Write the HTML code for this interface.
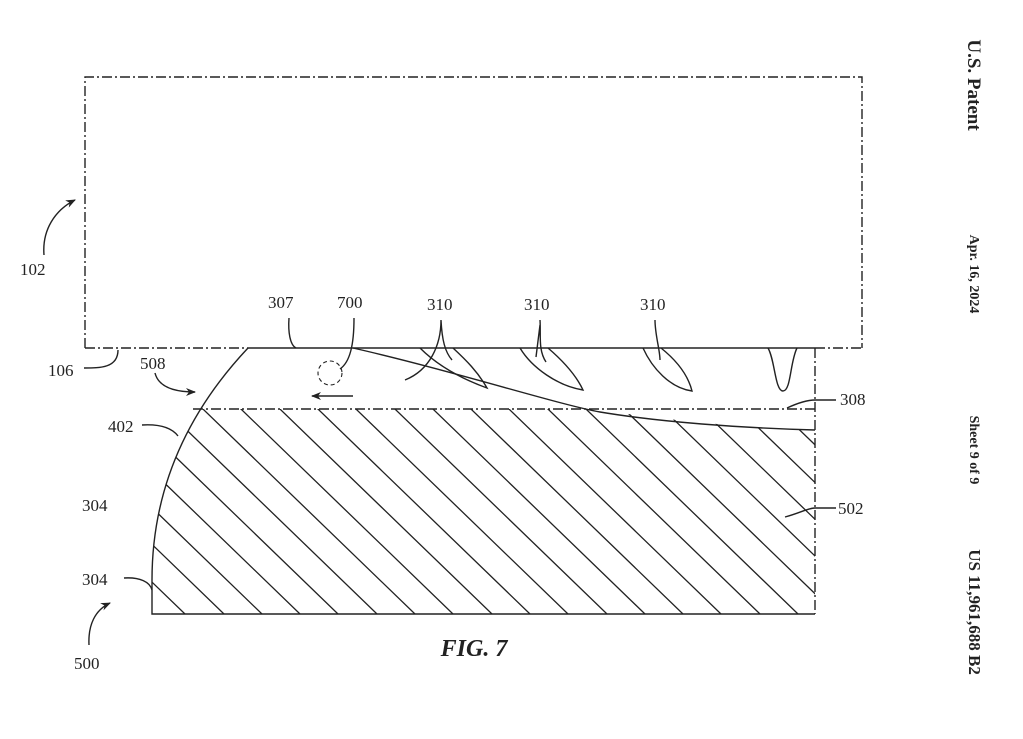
<!DOCTYPE html>
<html><head><meta charset="utf-8"><style>
html,body{margin:0;padding:0;background:#fff;}
svg{display:block;}
text{font-family:"Liberation Serif",serif;fill:#222;}
</style></head><body>
<svg width="1023" height="739" viewBox="0 0 1023 739" xmlns="http://www.w3.org/2000/svg">
<defs>
<clipPath id="c1"><path d="M248,348 Q152,450 152,580 L152,614 L815,614 L815,348 Z"/></clipPath>
<clipPath id="c2"><path d="M0,409 L595,409 C650,418 740,428 815,430 L815,620 L0,620 Z"/></clipPath>
<marker id="ah" markerWidth="10" markerHeight="8" refX="9" refY="4" orient="auto" markerUnits="userSpaceOnUse"><path d="M0,0 L10,4 L0,8 L3,4 Z" fill="#222"/></marker>
</defs>
<g fill="none" stroke="#222" stroke-width="1.4">
<path d="M85,348 L85,77 L862,77 L862,348" stroke-dasharray="10,3,2,3" />
<path d="M85,348 L248,348" stroke-dasharray="10,3,2,3"/>
<path d="M248,348 L815,348"/>
<path d="M815,348 L862,348" stroke-dasharray="10,3,2,3"/>
<path d="M815,348 L815,614" stroke-dasharray="10,3,2,3"/>
<path d="M193,409 L815,409" stroke-dasharray="10,3,2,3"/>
<path d="M248,348 Q152,450 152,580 L152,614 L815,614"/>
<g clip-path="url(#c1)"><g clip-path="url(#c2)" stroke-width="1.3">
<path d="M1066,614 l-300,-290 M1028,614 l-300,-290 M990,614 l-300,-290 M951,614 l-300,-290 M913,614 l-300,-290 M875,614 l-300,-290 M836,614 l-300,-290 M798,614 l-300,-290 M760,614 l-300,-290 M721,614 l-300,-290 M683,614 l-300,-290 M645,614 l-300,-290 M607,614 l-300,-290 M568,614 l-300,-290 M530,614 l-300,-290 M492,614 l-300,-290 M453,614 l-300,-290 M415,614 l-300,-290 M377,614 l-300,-290 M338,614 l-300,-290 M300,614 l-300,-290 M262,614 l-300,-290 M224,614 l-300,-290 M185,614 l-300,-290"/>
</g></g>
<path d="M353,348 C450,370 560,405 600,412 C660,422 740,428 815,430"/>
<path d="M420,348 C440,368 465,380 487,388 C478,372 466,360 453,348"/>
<path d="M520,348 C532,368 558,386 583,390 C576,375 562,360 548,348"/>
<path d="M643,348 C652,368 670,388 692,391 C688,375 676,360 661,348"/>
<path d="M768,348 C775,360 775,391 783,391 C791,391 790,362 797,348"/>
<path d="M441,320 C441,345 430,370 405,380 M441,320 C442,340 445,352 452,360"/>
<path d="M540,320 C541,335 538,350 546,362 M540,325 L536,357"/>
<path d="M655,320 C655,335 660,350 660,360"/>
<path d="M289,318 C288,332 290,345 296,348"/>
<path d="M354,318 C354,345 350,362 340,369"/>
<circle cx="330" cy="373" r="12" stroke-dasharray="4,3" stroke-width="1.1"/>
<path d="M353,396 L312,396" marker-end="url(#ah)"/>
<path d="M84,368 C100,368 118,368 118,350"/>
<path d="M155,373 C158,385 170,392 195,392" marker-end="url(#ah)"/>
<path d="M142,425 C160,424 172,428 178,436"/>
<path d="M124,578 C140,577 150,582 152,590"/>
<path d="M89,645 C88,625 95,610 110,603" marker-end="url(#ah)"/>
<path d="M44,255 C42,230 55,210 75,200" marker-end="url(#ah)"/>
<path d="M787,408 C800,402 808,400 815,400 L836,400"/>
<path d="M785,517 C800,513 808,508 815,508 L836,508"/>
</g>
<g font-size="17">
<text x="20" y="275">102</text>
<text x="268" y="308">307</text>
<text x="337" y="308">700</text>
<text x="427" y="310">310</text>
<text x="524" y="310">310</text>
<text x="640" y="310">310</text>
<text x="48" y="376">106</text>
<text x="140" y="369">508</text>
<text x="108" y="432">402</text>
<text x="82" y="511">304</text>
<text x="82" y="585">304</text>
<text x="74" y="669">500</text>
<text x="840" y="405">308</text>
<text x="838" y="514">502</text>
</g>
<text x="474" y="656" font-size="24" font-weight="bold" font-style="italic" text-anchor="middle">FIG. 7</text>
<g font-weight="bold">
<text transform="translate(968,85) rotate(90)" font-size="19" text-anchor="middle">U.S. Patent</text>
<text transform="translate(970,274) rotate(90)" font-size="14" text-anchor="middle">Apr. 16, 2024</text>
<text transform="translate(970,450) rotate(90)" font-size="14" text-anchor="middle">Sheet 9 of 9</text>
<text transform="translate(969,612) rotate(90)" font-size="17" text-anchor="middle">US 11,961,688 B2</text>
</g>
</svg>
</body></html>
